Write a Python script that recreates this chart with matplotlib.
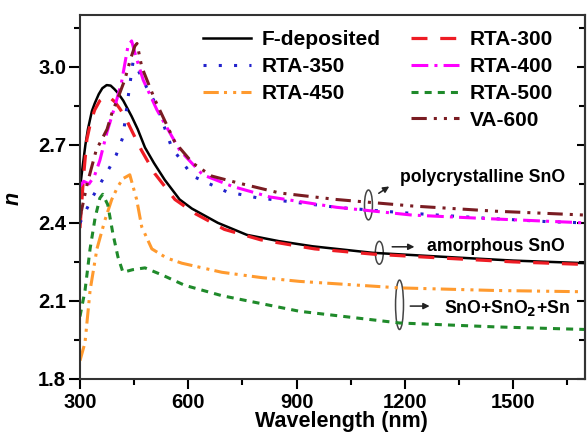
import numpy as np
import matplotlib
matplotlib.use('Agg')
import matplotlib.pyplot as plt
from matplotlib.patches import Ellipse
from matplotlib.ticker import MultipleLocator, FormatStrFormatter, NullFormatter

plt.rcParams['font.family'] = ['Liberation Sans', 'DejaVu Sans']
plt.rcParams['font.weight'] = 'bold'

# values
wl_fdep = [300, 305, 315, 322, 333, 341, 352, 362, 374, 385, 395, 405, 420, 443, 460, 480, 505, 535,
           576, 610, 682, 762, 850, 944, 1110, 1300, 1500, 1700]
n_fdep = [2.53, 2.59, 2.70, 2.76, 2.83, 2.86, 2.895, 2.918, 2.93, 2.928, 2.915, 2.90, 2.87, 2.81, 2.76,
          2.69, 2.63, 2.565, 2.49, 2.455, 2.40, 2.354, 2.33, 2.31, 2.285, 2.27, 2.255, 2.245]

wl_300 = [300, 310, 319, 330, 341, 355, 369, 383, 397, 410, 424, 445, 470, 507, 563, 620, 700, 800,
          950, 1110, 1300, 1500, 1700]
n_300 = [2.38, 2.58, 2.72, 2.79, 2.835, 2.87, 2.885, 2.882, 2.865, 2.84, 2.81, 2.75, 2.68, 2.59, 2.49,
         2.435, 2.375, 2.335, 2.30, 2.28, 2.265, 2.25, 2.24]

wl_350 = [300, 314, 335, 360, 383, 400, 419, 435, 447, 460, 485, 513, 554, 612, 706, 789, 1010, 1185,
          1400, 1591, 1700]
n_350 = [2.40, 2.44, 2.50, 2.56, 2.615, 2.66, 2.73, 2.90, 3.02, 2.99, 2.92, 2.85, 2.69, 2.58, 2.52,
         2.497, 2.46, 2.44, 2.42, 2.405, 2.40]

wl_400 = [300, 310, 325, 340, 355, 375, 397, 415, 433, 443, 455, 475, 513, 576, 640, 723, 825, 1010,
          1220, 1450, 1700]
n_400 = [2.54, 2.56, 2.55, 2.58, 2.64, 2.75, 2.85, 2.94, 3.08, 3.10, 3.04, 2.95, 2.835, 2.68, 2.585,
         2.54, 2.50, 2.46, 2.43, 2.415, 2.40]

wl_450 = [300, 314, 328, 347, 369, 388, 405, 419, 438, 457, 471, 499, 540, 582, 693, 800, 908, 1185,
          1450, 1700]
n_450 = [1.87, 1.94, 2.14, 2.30, 2.41, 2.49, 2.54, 2.57, 2.585, 2.49, 2.385, 2.30, 2.265, 2.245, 2.21,
         2.19, 2.175, 2.15, 2.14, 2.135]

wl_500 = [300, 314, 328, 342, 355, 363, 377, 391, 405, 419, 446, 480, 527, 590, 693, 908, 1185, 1450, 1700]
n_500 = [2.04, 2.14, 2.30, 2.42, 2.495, 2.51, 2.47, 2.36, 2.27, 2.21, 2.22, 2.227, 2.20, 2.16, 2.12,
         2.06, 2.015, 2.0, 1.99]

wl_600 = [300, 320, 345, 375, 388, 405, 424, 440, 452, 458, 471, 507, 563, 612, 665, 734, 853, 1010,
          1220, 1450, 1700]
n_600 = [2.42, 2.55, 2.68, 2.76, 2.82, 2.88, 2.95, 3.03, 3.08, 3.09, 3.00, 2.875, 2.71, 2.63, 2.58,
         2.555, 2.515, 2.49, 2.465, 2.445, 2.43]

fig = plt.figure(figsize=(5.88, 4.34), dpi=100)
ax = fig.add_axes([0.136, 0.127, 0.8597, 0.8387])

h_f, = ax.plot(wl_fdep, n_fdep, color='black', lw=1.8, label='F-deposited')
h_3, = ax.plot(wl_300, n_300, color='#ee1c24', lw=2.3, dashes=(5, 4), label='RTA-300')
h_35, = ax.plot(wl_350, n_350, color='#2222cc', lw=2.2, dashes=(1, 4), label='RTA-350')
h_4, = ax.plot(wl_400, n_400, color='#ff00ff', lw=2.2, dashes=(5.5, 2, 1, 2), label='RTA-400')
h_45, = ax.plot(wl_450, n_450, color='#ff9a2e', lw=2.2, dashes=(5, 1.7, 1, 2, 1, 1.7), label='RTA-450')
h_5, = ax.plot(wl_500, n_500, color='#1f8a2a', lw=2.2, dashes=(2.3, 2), label='RTA-500')
h_6, = ax.plot(wl_600, n_600, color='#7a1c22', lw=2.2, dashes=(5, 2.3, 1, 2.3, 1, 2.3), label='VA-600')
blank, = ax.plot([], [], color='none')

ax.legend([h_f, h_35, h_45, blank, h_3, h_4, h_5, h_6],
          ['F-deposited', 'RTA-350', 'RTA-450', '', 'RTA-300', 'RTA-400', 'RTA-500', 'VA-600'],
          ncol=2, frameon=False, fontsize=15, loc='upper left',
          bbox_to_anchor=(0.345, 0.930), bbox_transform=fig.transFigure,
          borderpad=0, borderaxespad=0, handlelength=2.3, handletextpad=0.5,
          columnspacing=1.5, labelspacing=0.37)

ax.set_xlim(300, 1700)
ax.set_ylim(1.8, 3.2)
ax.xaxis.set_major_locator(MultipleLocator(300))
ax.xaxis.set_minor_locator(MultipleLocator(150))
ax.yaxis.set_major_locator(MultipleLocator(0.3))
ax.yaxis.set_minor_locator(MultipleLocator(0.15))
ax.yaxis.set_major_formatter(FormatStrFormatter('%.1f'))

ax.tick_params(axis='x', which='major', direction='out', length=7, width=1.5, pad=3, labelsize=14.5)
ax.tick_params(axis='x', which='minor', direction='out', length=4, width=1.5)
ax.tick_params(axis='y', which='major', direction='out', length=8, width=1.5, pad=2, labelsize=14.5)
ax.tick_params(axis='y', which='minor', direction='out', length=4, width=1.5)
for lab in ax.get_xticklabels() + ax.get_yticklabels():
    lab.set_fontweight('bold')
for spine in ax.spines.values():
    spine.set_linewidth(1.5)
    spine.set_color('#333333')

# right side: inward ticks, no labels
sec = ax.secondary_yaxis('right')
sec.yaxis.set_major_locator(MultipleLocator(0.3))
sec.yaxis.set_minor_locator(MultipleLocator(0.15))
sec.yaxis.set_major_formatter(NullFormatter())
sec.tick_params(which='major', direction='in', length=6, width=1.5)
sec.tick_params(which='minor', direction='in', length=4, width=1.5)
sec.spines['right'].set_linewidth(1.5)
sec.spines['right'].set_color('#333333')

ax.set_xlabel('Wavelength (nm)', fontsize=15.5, fontweight='bold')
ax.set_ylabel('n', fontsize=15.5, fontweight='bold', style='italic')
ax.xaxis.set_label_coords(0.518, -0.088)
ax.yaxis.set_label_coords(-0.112, 0.497)

# annotations: ellipses + arrows
ell_kw = dict(fill=False, edgecolor='#444444', lw=1.1)
ax.add_patch(Ellipse((1099, 2.469), 22, 0.115, **ell_kw))
ax.add_patch(Ellipse((1129, 2.285), 22, 0.088, **ell_kw))
ax.add_patch(Ellipse((1185, 2.085), 22, 0.19, **ell_kw))

arr_kw = dict(arrowstyle='-|>', color='#222222', lw=1.1, mutation_scale=9)
ax.annotate('', xy=(1163, 2.546), xytext=(1121, 2.508), arrowprops=arr_kw)
ax.annotate('', xy=(1234, 2.308), xytext=(1157, 2.308), arrowprops=arr_kw)
ax.annotate('', xy=(1276, 2.08), xytext=(1207, 2.08), arrowprops=arr_kw)

ax.text(1185, 2.573, 'polycrystalline SnO', fontsize=12.7, fontweight='bold', va='center', ha='left')
ax.text(1262, 2.308, 'amorphous SnO', fontsize=12.7, fontweight='bold', va='center', ha='left')
ax.text(1309, 2.073, 'SnO+SnO$_\\mathbf{2}$+Sn', fontsize=12.7, fontweight='bold', va='center', ha='left')

fig.savefig('out.png', dpi=100)
